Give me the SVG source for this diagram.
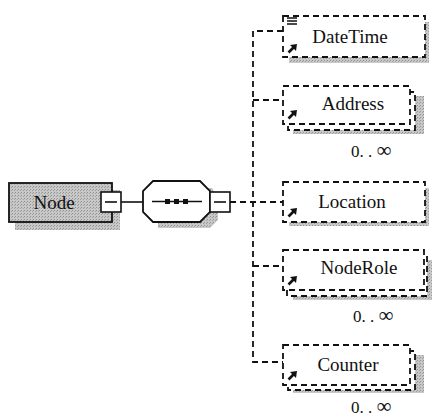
<svg xmlns="http://www.w3.org/2000/svg" width="434" height="420" viewBox="0 0 434 420">
<defs>
<pattern id="ht" width="3" height="3" patternUnits="userSpaceOnUse">
<rect width="3" height="3" fill="#c8c8c8"/>
<rect width="1" height="1" fill="#909090"/>
<rect x="2" y="1" width="1" height="1" fill="#a0a0a0"/>
</pattern>
<g id="arr"><path d="M0.5,8.5 L6,3" stroke="#111" stroke-width="2.6"/><path d="M2,1 L9,0 L8,7 Z" fill="#111"/></g>
</defs>
<style>
.t{font-family:"Liberation Serif","Times New Roman",serif;font-size:19px;fill:#111;text-anchor:middle;dominant-baseline:central}
.m{font-family:"Liberation Serif","Times New Roman",serif;font-size:17px;fill:#111}
.inf{font-size:21px}
.sh{fill:url(#ht);stroke:none}
.db{fill:#fff;stroke:#111;stroke-width:1.8;stroke-dasharray:6 4}
.dl{fill:none;stroke:#111;stroke-width:1.8;stroke-dasharray:6 4}
.sl{fill:none;stroke:#111;stroke-width:1.6}
.sq{fill:#fff;stroke:#111;stroke-width:1.6}
</style>
<g id="connectors">
<line class="sl" x1="121" y1="202" x2="143" y2="202"/>
<line class="dl" x1="230" y1="202" x2="283" y2="202"/>
<path class="dl" d="M283,31 H253 V362 H283"/>
<line class="dl" x1="253" y1="100" x2="283" y2="100"/>
<line class="dl" x1="253" y1="266" x2="283" y2="266"/>
</g>
<g id="node-Node">
<rect class="sh" x="15" y="190" width="105" height="40"/>
<rect x="9" y="183" width="103" height="39" fill="url(#ht)" stroke="#111" stroke-width="1.8"/>
<text class="t" x="54" y="202" font-size="19">Node</text>
<rect class="sq" x="101" y="192" width="20" height="20"/>
<line class="sl" x1="105" y1="202" x2="117" y2="202"/>
</g>
<g id="node-sequence">
<path class="sh" d="M158,188 H212 L218,198 V220 L210,228 H158 Z"/>
<path d="M153,181 H200 L210,191 V212 L200,222 H153 L143,212 V191 Z" fill="#fff" stroke="#111" stroke-width="1.8"/>
<line class="sl" x1="152" y1="201.5" x2="202" y2="201.5"/>
<rect x="165" y="199" width="5" height="5" fill="#111"/>
<rect x="174" y="199" width="5" height="5" fill="#111"/>
<rect x="183" y="199" width="5" height="5" fill="#111"/>
<rect class="sq" x="210" y="192" width="20" height="20"/>
<line class="sl" x1="214" y1="202" x2="226" y2="202"/>
</g>
<g id="node-DateTime">
<rect class="sh" x="289" y="22" width="140" height="41"/>
<rect class="db" x="283" y="16" width="142" height="41"/>
<path d="M287,18 H297 M287,21 H297 M287,24 H297" stroke="#111" stroke-width="1.3"/>
<use href="#arr" x="288" y="44"/>
<text class="t" x="350" y="36">DateTime</text>
</g>
<g id="node-Address">
<rect class="sh" x="293" y="96" width="131" height="38"/>
<rect class="db" x="288" y="92" width="127" height="38"/>
<rect class="db" x="283" y="86" width="127" height="38"/>
<use href="#arr" x="288" y="110"/>
<text class="t" x="353" y="103">Address</text>
<text class="m" x="351" y="157">0. . <tspan class="inf">∞</tspan></text>
</g>
<g id="node-Location">
<rect class="sh" x="289" y="188" width="140" height="38"/>
<rect class="db" x="283" y="182" width="142" height="40"/>
<use href="#arr" x="288" y="208"/>
<text class="t" x="352" y="201">Location</text>
</g>
<g id="node-NodeRole">
<rect class="sh" x="293" y="260" width="139" height="40"/>
<rect class="db" x="287" y="256" width="140" height="40"/>
<rect class="db" x="283" y="250" width="141" height="40"/>
<use href="#arr" x="288" y="276"/>
<text class="t" x="359" y="267">NodeRole</text>
<text class="m" x="353" y="322">0. . <tspan class="inf">∞</tspan></text>
</g>
<g id="node-Counter">
<rect class="sh" x="293" y="355" width="131" height="38"/>
<rect class="db" x="288" y="351" width="127" height="39"/>
<rect class="db" x="283" y="345" width="127" height="40"/>
<use href="#arr" x="288" y="371"/>
<text class="t" x="348" y="364">Counter</text>
<text class="m" x="351" y="413">0. . <tspan class="inf">∞</tspan></text>
</g>
</svg>
